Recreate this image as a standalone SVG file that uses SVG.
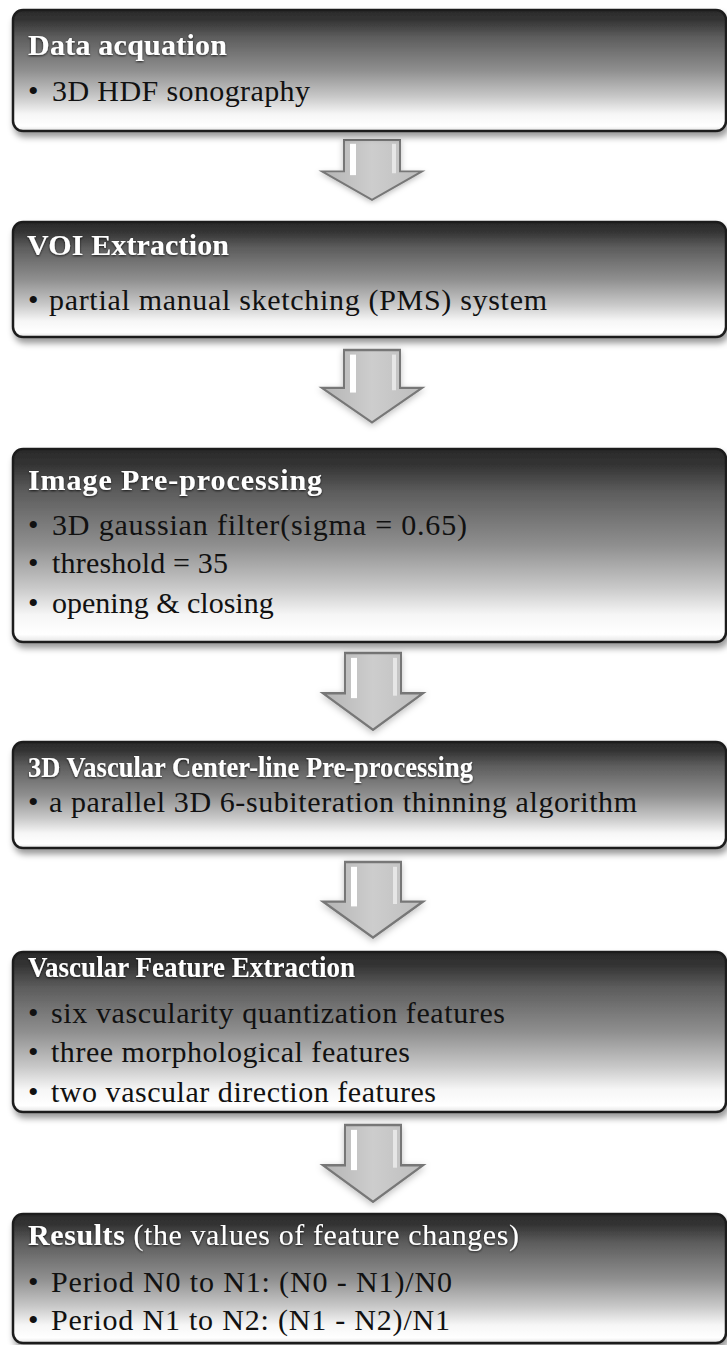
<svg xmlns="http://www.w3.org/2000/svg" width="727" height="1345" viewBox="0 0 727 1345">
<defs>
<linearGradient id="boxg" x1="0" y1="0" x2="0" y2="1">
<stop offset="0" stop-color="#2a2a2a"/>
<stop offset="0.08" stop-color="#333333"/>
<stop offset="0.22" stop-color="#5c5c5c"/>
<stop offset="0.5" stop-color="#8f8f8f"/>
<stop offset="0.72" stop-color="#c9c9c9"/>
<stop offset="0.86" stop-color="#f6f6f6"/>
<stop offset="0.96" stop-color="#ffffff"/>
<stop offset="1" stop-color="#e4e4e4"/>
</linearGradient>
<linearGradient id="arg" x1="0" y1="0" x2="1" y2="0">
<stop offset="0" stop-color="#b4b4b4"/>
<stop offset="0.5" stop-color="#cdcdcd"/>
<stop offset="1" stop-color="#bdbdbd"/>
</linearGradient>
<filter id="bs" x="-5%" y="-10%" width="110%" height="130%">
<feDropShadow dx="2" dy="5" stdDeviation="3" flood-color="#000" flood-opacity="0.4"/>
</filter>
<filter id="ts" x="-5%" y="-30%" width="110%" height="160%">
<feDropShadow dx="0" dy="1" stdDeviation="1.2" flood-color="#000" flood-opacity="0.75"/>
</filter>
<filter id="as" x="-30%" y="-30%" width="160%" height="160%">
<feDropShadow dx="0" dy="2" stdDeviation="3" flood-color="#000" flood-opacity="0.25"/>
</filter>
<g id="arrow">
<polygon points="-28,0 28,0 28,33 50,33 0,63 -50,33 -28,33" fill="url(#arg)" stroke="#777777" stroke-width="2" stroke-linejoin="miter"/>
<rect x="-22" y="4" width="6" height="33" fill="#ffffff"/>
<rect x="20" y="4" width="4" height="31" fill="#e6e6e6"/>
</g>
</defs>
<style>
.box{fill:url(#boxg);stroke:#1e1e1e;stroke-width:2.5;filter:url(#bs);}
.t{font-family:"Liberation Serif","Times New Roman",serif;font-size:30px;font-weight:bold;fill:#ffffff;filter:url(#ts);}
.tr{font-weight:normal;}
.b{font-family:"Liberation Serif","Times New Roman",serif;font-size:30px;fill:#111111;}
.ar{filter:url(#as);}
</style>
<rect width="727" height="1345" fill="#ffffff"/>

<g id="connectors">
<g class="ar" transform="translate(372,140) scale(1,0.95)"><use href="#arrow"/></g>
<g class="ar" transform="translate(372,350) scale(1,1.15)"><use href="#arrow"/></g>
<g class="ar" transform="translate(373,653) scale(1,1.22)"><use href="#arrow"/></g>
<g class="ar" transform="translate(373,862) scale(1,1.2)"><use href="#arrow"/></g>
<g class="ar" transform="translate(373,1125) scale(1,1.22)"><use href="#arrow"/></g>
</g>

<g id="n1">
<rect class="box" x="13" y="10" width="713" height="121" rx="10"/>
<text class="t" x="28" y="55" textLength="199" lengthAdjust="spacing">Data acquation</text>
<text class="b" x="28" y="101">•</text>
<text class="b" x="52" y="101" textLength="258" lengthAdjust="spacing">3D HDF sonography</text>
</g>

<g id="n2">
<rect class="box" x="13" y="222" width="713" height="115" rx="10"/>
<text class="t" x="27" y="255" textLength="202" lengthAdjust="spacing">VOI Extraction</text>
<text class="b" x="28" y="310">•</text>
<text class="b" x="49" y="310" textLength="498" lengthAdjust="spacing">partial manual sketching (PMS) system</text>
</g>

<g id="n3">
<rect class="box" x="13" y="449" width="713" height="193" rx="10"/>
<text class="t" x="28" y="490" textLength="294" lengthAdjust="spacing">Image Pre-processing</text>
<text class="b" x="28" y="535">•</text>
<text class="b" x="52" y="535" textLength="415" lengthAdjust="spacing">3D gaussian filter(sigma = 0.65)</text>
<text class="b" x="28" y="573">•</text>
<text class="b" x="52" y="573" textLength="176" lengthAdjust="spacing">threshold = 35</text>
<text class="b" x="28" y="613">•</text>
<text class="b" x="52" y="613">opening &amp; closing</text>
</g>

<g id="n4">
<rect class="box" x="13" y="742" width="713" height="106" rx="10"/>
<text class="t" x="28" y="777" textLength="445" lengthAdjust="spacingAndGlyphs">3D Vascular Center-line Pre-processing</text>
<text class="b" x="28" y="812">•</text>
<text class="b" x="49" y="812" textLength="588" lengthAdjust="spacing">a parallel 3D 6-subiteration thinning algorithm</text>
</g>

<g id="n5">
<rect class="box" x="13" y="952" width="713" height="160" rx="10"/>
<text class="t" x="28" y="977" textLength="327" lengthAdjust="spacingAndGlyphs">Vascular Feature Extraction</text>
<text class="b" x="28" y="1023">•</text>
<text class="b" x="51" y="1023" textLength="454" lengthAdjust="spacing">six vascularity quantization features</text>
<text class="b" x="28" y="1062">•</text>
<text class="b" x="51" y="1062" textLength="359" lengthAdjust="spacing">three morphological features</text>
<text class="b" x="28" y="1102">•</text>
<text class="b" x="51" y="1102" textLength="385" lengthAdjust="spacing">two vascular direction features</text>
</g>

<g id="n6">
<rect class="box" x="13" y="1214" width="713" height="129" rx="10"/>
<text class="t" x="28" y="1245" textLength="491" lengthAdjust="spacing">Results<tspan class="tr"> (the values of feature changes)</tspan></text>
<text class="b" x="28" y="1292">•</text>
<text class="b" x="51" y="1292" textLength="401" lengthAdjust="spacing">Period N0 to N1: (N0 - N1)/N0</text>
<text class="b" x="28" y="1330">•</text>
<text class="b" x="51" y="1330" textLength="399" lengthAdjust="spacing">Period N1 to N2: (N1 - N2)/N1</text>
</g>
</svg>
